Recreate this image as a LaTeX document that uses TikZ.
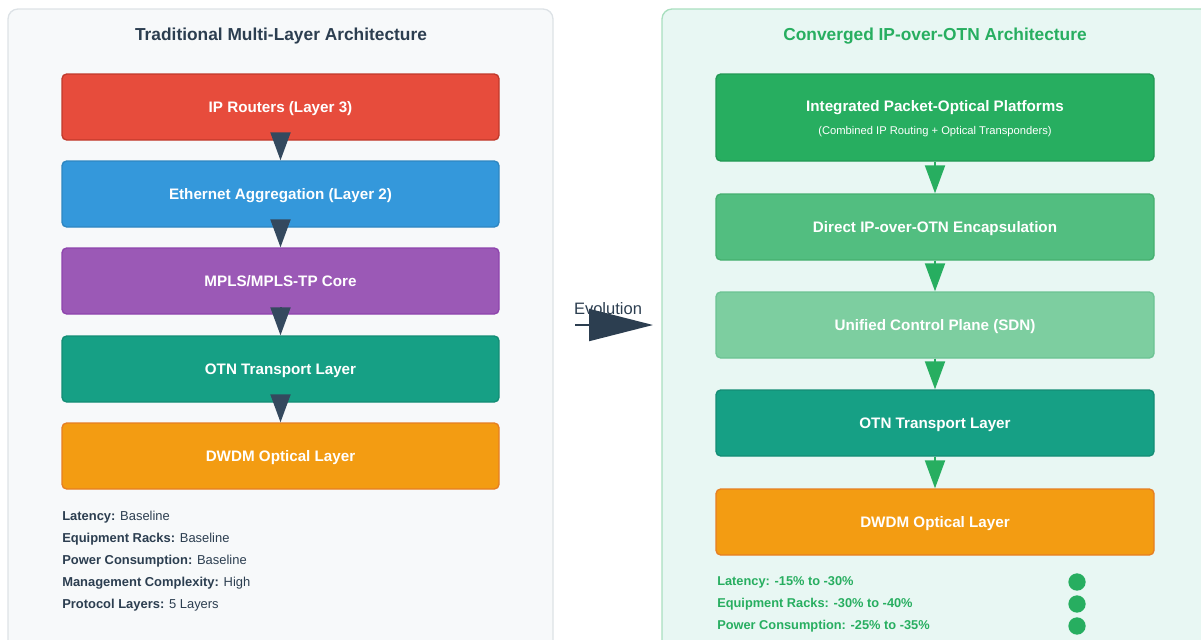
\documentclass[tikz,border=0pt]{standalone}
\usepackage{fontspec}
\setmainfont{Liberation Sans}
\usetikzlibrary{arrows.meta}
\definecolor{navy}{HTML}{2C3E50}
\definecolor{slate}{HTML}{34495E}
\definecolor{leftbg}{HTML}{F7F9FA}
\definecolor{leftrule}{HTML}{DDE2E6}
\definecolor{rightbg}{HTML}{E8F7F3}
\definecolor{rightrule}{HTML}{A9DFBF}
\definecolor{cred}{HTML}{E74C3C}\definecolor{credd}{HTML}{C0392B}
\definecolor{cblue}{HTML}{3498DB}\definecolor{cblued}{HTML}{2E86C1}
\definecolor{cpurp}{HTML}{9B59B6}\definecolor{cpurpd}{HTML}{8E44AD}
\definecolor{cteal}{HTML}{16A085}\definecolor{cteald}{HTML}{138D75}
\definecolor{corange}{HTML}{F39C12}\definecolor{coranged}{HTML}{E67E22}
\definecolor{cgreen}{HTML}{27AE60}\definecolor{cgreend}{HTML}{229954}
\definecolor{cgreen2}{HTML}{52BE80}\definecolor{cgreen2d}{HTML}{45B06F}
\definecolor{cgreen3}{HTML}{7DCEA0}\definecolor{cgreen3d}{HTML}{6CC393}
\tikzset{
  panel/.style={rounded corners=7.5pt, line width=1pt},
  layer/.style={draw, rounded corners=3.5pt, line width=1pt, text=white,
    font=\bfseries\fontsize{11.4}{13}\selectfont, inner sep=0pt, align=center,
    text height=1.6ex, text depth=0pt},
  lbox/.style={layer, minimum width=327.75pt, minimum height=49.5pt},
  rbox/.style={layer, minimum width=328.5pt, minimum height=49.5pt},
  darr/.style={draw=slate, line width=1.5pt, -{Triangle[width=15pt,length=21pt]}, fill=slate},
  garr/.style={draw=cgreen, line width=1.5pt, -{Triangle[width=15pt,length=21pt]}, fill=cgreen},
  ptitle/.style={font=\bfseries\fontsize{13}{15}\selectfont},
  stat/.style={anchor=west, inner sep=0pt, font=\fontsize{9.7}{11}\selectfont},
  gstat/.style={stat, text=cgreen, font=\bfseries\fontsize{9.6}{11}\selectfont},
}
\begin{document}
\begin{tikzpicture}[x=0.75pt, y=-0.75pt]
\useasboundingbox (0,0) rectangle (1201,639);
\clip (0,0) rectangle (1201,639);

% panels
\draw[panel, fill=leftbg, draw=leftrule] (8,9) rectangle (553,660);
\draw[panel, fill=rightbg, draw=rightrule] (662,9) rectangle (1220,660);

\node[ptitle, text=navy] (ltitle) at (281,36) {Traditional Multi-Layer Architecture};
\node[ptitle, text=cgreen] (rtitle) at (935,36) {Converged IP-over-OTN Architecture};

% traditional stack
\node[lbox, fill=cred, draw=credd] (ip) at (280.5,107) {IP Routers (Layer 3)};
\node[lbox, fill=cblue, draw=cblued] (eth) at (280.5,194) {Ethernet Aggregation (Layer 2)};
\node[lbox, fill=cpurp, draw=cpurpd] (mpls) at (280.5,281) {MPLS/MPLS-TP Core};
\node[lbox, fill=cteal, draw=cteald] (otnl) at (280.5,369) {OTN Transport Layer};
\node[lbox, fill=corange, draw=coranged] (dwdml) at (280.5,456) {DWDM Optical Layer};

\draw[darr] ([yshift=5.5pt]ip.south) -- (eth.north);
\draw[darr] ([yshift=5.5pt]eth.south) -- (mpls.north);
\draw[darr] ([yshift=5.5pt]mpls.south) -- (otnl.north);
\draw[darr] ([yshift=5.5pt]otnl.south) -- (dwdml.north);

\node[stat, text=navy] (s1) at (62,517) {\textbf{Latency:} Baseline};
\node[stat, text=navy] (s2) at (62,539) {\textbf{Equipment Racks:} Baseline};
\node[stat, text=navy] (s3) at (62,561) {\textbf{Power Consumption:} Baseline};
\node[stat, text=navy] (s4) at (62,583) {\textbf{Management Complexity:} High};
\node[stat, text=navy] (s5) at (62,605) {\textbf{Protocol Layers:} 5 Layers};

% evolution arrow
\coordinate (evs) at (575,325);
\coordinate (eve) at (653,325);
\draw[draw=navy, line width=1.5pt, fill=navy, -{Triangle[width=24pt,length=48pt]}] (evs) -- (eve);
\node[font=\fontsize{12.4}{14}\selectfont, text=navy] (evl) at (608,309) {Evolution};

% converged stack
\node[rbox, fill=cgreen, draw=cgreend, minimum height=65.25pt] (ipo) at (935,117.5) {};
\node[text=white, font=\bfseries\fontsize{11.4}{13}\selectfont] (ipot) at (935,108) {Integrated Packet-Optical Platforms};
\node[text=white, font=\fontsize{8.4}{10}\selectfont] (ipos) at (935,132) {(Combined IP Routing + Optical Transponders)};
\node[rbox, fill=cgreen2, draw=cgreen2d] (direct) at (935,227) {Direct IP-over-OTN Encapsulation};
\node[rbox, fill=cgreen3, draw=cgreen3d] (sdn) at (935,325) {Unified Control Plane (SDN)};
\node[rbox, fill=cteal, draw=cteald] (otnr) at (935,423) {OTN Transport Layer};
\node[rbox, fill=corange, draw=coranged] (dwdmr) at (935,522) {DWDM Optical Layer};

\draw[garr] (ipo.south) -- (direct.north);
\draw[garr] (direct.south) -- (sdn.north);
\draw[garr] (sdn.south) -- (otnr.north);
\draw[garr] (otnr.south) -- (dwdmr.north);

\node[gstat] (g1) at (717,582) {Latency: -15\% to -30\%};
\node[gstat] (g2) at (717,604) {Equipment Racks: -30\% to -40\%};
\node[gstat] (g3) at (717,626) {Power Consumption: -25\% to -35\%};
\fill[cgreen] (1077,582) circle (6.5pt);
\fill[cgreen] (1077,604) circle (6.5pt);
\fill[cgreen] (1077,626) circle (6.5pt);
\end{tikzpicture}
\end{document}
